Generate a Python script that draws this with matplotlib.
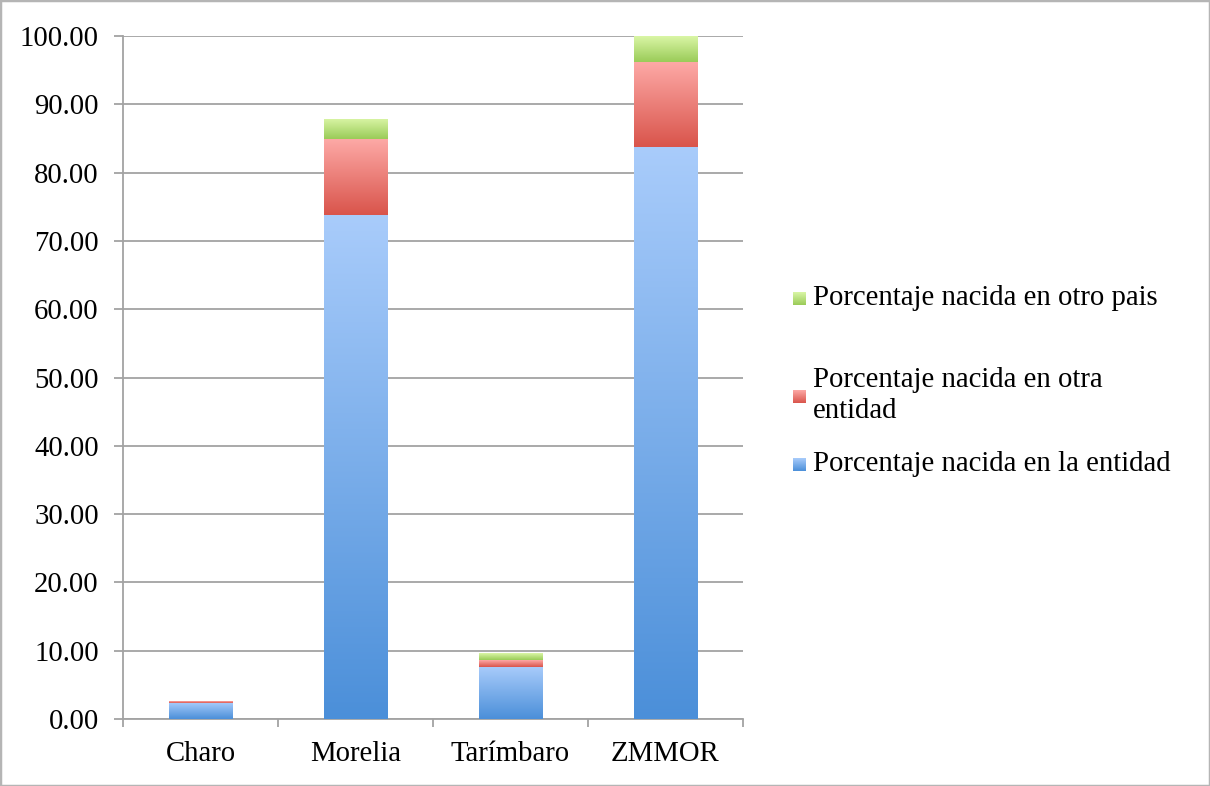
import numpy as np
import matplotlib
matplotlib.use('Agg')
import matplotlib.pyplot as plt
from matplotlib.colors import LinearSegmentedColormap
from matplotlib.patches import Rectangle

# Datos
municipios = ['Charo', 'Morelia', 'Tarímbaro', 'ZMMOR']
nacida_entidad = [2.4, 73.8, 7.66, 83.8]
nacida_otra_entidad = [0.22, 11.1, 0.98, 12.4]
nacida_otro_pais = [0.04, 3.0, 0.96, 3.8]

series_labels = ['Porcentaje nacida en la entidad',
                 'Porcentaje nacida en otra\nentidad',
                 'Porcentaje nacida en otro pais']
# colores (arriba claro, abajo oscuro)
gradientes = [('#a9ccfb', '#4b8fd9'),
              ('#fda9a6', '#d9544b'),
              ('#daf6a6', '#9acb58')]

plt.rcParams['font.family'] = ['Liberation Serif', 'DejaVu Serif']
fs = 20.7

fig = plt.figure(figsize=(12.1, 7.86), dpi=100)
ax = fig.add_axes([123 / 1210, 1 - 719 / 786, 620 / 1210, 683 / 786])

x = np.arange(len(municipios))
ancho = 0.41
grad = np.linspace(1, 0, 256).reshape(-1, 1)

bottom = np.zeros(len(municipios))
for valores, (claro, oscuro) in zip([nacida_entidad, nacida_otra_entidad, nacida_otro_pais], gradientes):
    cmap = LinearSegmentedColormap.from_list('g', [oscuro, claro])
    barras = ax.bar(x, valores, ancho, bottom=bottom, color='none', edgecolor='none', zorder=3)
    for b in barras:
        x0, y0 = b.get_x(), b.get_y()
        im = ax.imshow(grad, cmap=cmap, aspect='auto', origin='upper',
                       extent=[x0, x0 + b.get_width(), y0, y0 + b.get_height()],
                       zorder=3, interpolation='bilinear')
        im.set_clip_path(b)
    bottom += np.array(valores)

ax.set_xlim(-0.5, 3.5)
ax.set_ylim(0, 100)
ax.set_yticks(np.arange(0, 101, 10))
ax.set_yticklabels([f'{v:.2f}' for v in np.arange(0, 101, 10)])
ax.set_xticks(x)
ax.set_xticklabels(municipios)
ax.set_xticks(np.arange(-0.5, 4, 1), minor=True)

gris = '#a3a3a3'
ax.grid(axis='y', color=gris, linewidth=1.3, zorder=0)
ax.set_axisbelow(True)
for s in ['top', 'right']:
    ax.spines[s].set_visible(False)
for s in ['left', 'bottom']:
    ax.spines[s].set_color(gris)
    ax.spines[s].set_linewidth(1.3)

ax.tick_params(axis='y', length=6.5, width=1.3, color=gris, pad=11, labelsize=fs)
ax.tick_params(axis='x', which='major', length=0, pad=16, labelsize=fs)
ax.tick_params(axis='x', which='minor', length=6, width=1.3, color=gris)

# leyenda manual
leyenda_y = [464, 396, 298]
for lab, (claro, oscuro), yy in zip(series_labels, gradientes, leyenda_y):
    cmap = LinearSegmentedColormap.from_list('g', [oscuro, claro])
    lax = fig.add_axes([793 / 1210, 1 - (yy + 7) / 786, 13 / 1210, 13 / 786])
    lax.imshow(grad, cmap=cmap, aspect='auto')
    lax.axis('off')
    fig.text(813 / 1210, 1 - yy / 786, lab, fontsize=fs, va='center', ha='left',
             linespacing=1.25)

fig.patches.append(Rectangle((0, 0), 1, 1, transform=fig.transFigure, fill=False,
                             edgecolor='#b5b5b5', linewidth=2.5))

fig.savefig('out.png', dpi=100)
